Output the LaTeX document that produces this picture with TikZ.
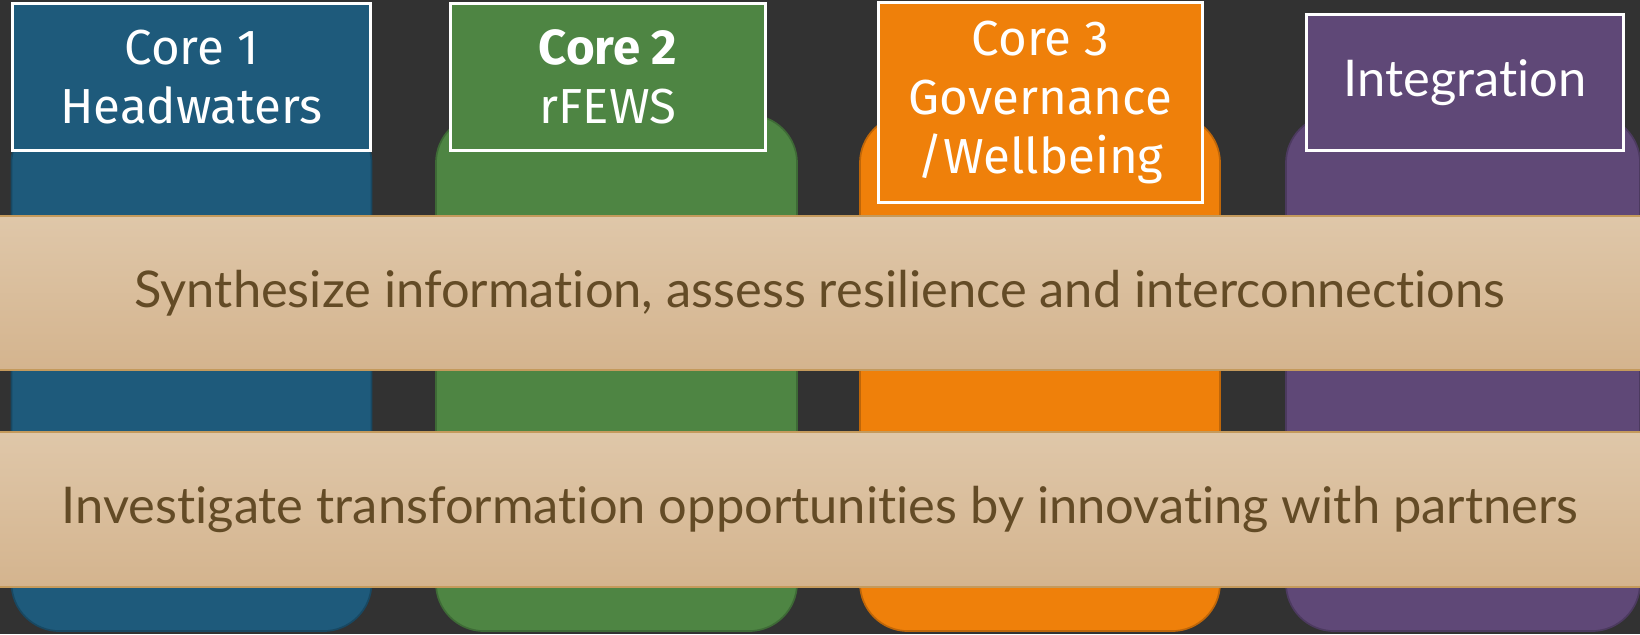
\documentclass[tikz,border=0pt]{standalone}
\usepackage{fontspec}
\setmainfont{Lato}[Ligatures={NoCommon,NoRequired,NoContextual}]
\newfontfamily\corefont{Fira Sans}
\usepackage{tikz}

\definecolor{bgdark}{HTML}{323232}
\definecolor{coreblue}{HTML}{1E5A7B}
\definecolor{coregreen}{HTML}{4E8543}
\definecolor{coreorange}{HTML}{EF800A}
\definecolor{corepurple}{HTML}{5F4877}
\definecolor{bandtop}{HTML}{DFC7A9}
\definecolor{bandbot}{HTML}{D4B48E}
\definecolor{bandedge}{HTML}{C49A5C}
\definecolor{bandtext}{HTML}{634B26}

\begin{document}
\begin{tikzpicture}[
	x=0.025cm, y=-0.025cm,
	column/.style={
		draw=#1!80!black,
		fill=#1,
		line width=1.2pt,
		rounded corners=1.2cm,
		minimum width=9cm,
		minimum height=12.9cm,
		inner sep=0pt
	},
	header/.style={
		draw=white,
		fill=#1,
		line width=2.1pt,
		text=white,
		align=center,
		inner sep=0pt,
		font=\corefont\fontsize{35}{42}\selectfont
	},
	band/.style={
		draw=bandedge,
		line width=1.4pt,
		top color=bandtop,
		bottom color=bandbot,
		minimum width=41.2cm,
		text=bandtext,
		inner sep=0pt,
		font=\fontsize{36}{43}\selectfont
	}
	]
	
	\fill[bgdark] (0,0) rectangle (1640,634);
	\useasboundingbox (0,0) rectangle (1640,634);
	
	% the four columns
	\node[column=coreblue] (c1) at (191.5,373) {};
	\node[column=coregreen, minimum width=9.025cm] (c2) at (616.5,373) {};
	\node[column=coreorange] (c3) at (1040,373) {};
	\node[column=corepurple, minimum width=8.85cm] (c4) at (1463,373) {};
	
	% headers
	\node[header=coreblue, minimum width=8.95cm, minimum height=3.675cm] 
		(h1) at (191.5,77) {Core 1\\Headwaters};
	\node[header=coregreen, minimum width=7.875cm, minimum height=3.675cm] 
		(h2) at (608,77) {\textbf{Core 2}\\rFEWS};
	\node[header=coreorange, minimum width=8.1cm, minimum height=5cm] 
		(h3) at (1040.5,102.5) {Core 3\\Governance\\/Wellbeing};
	\node[header=corepurple, minimum width=7.925cm, minimum height=3.4cm, font=\fontsize{36}{42}\selectfont] 
		(h4) at (1465,82.5) {Integration};
	
	% bands across
	\node[band, minimum height=3.85cm] 
		(b1) at (820,293) {Synthesize information, assess resilience and interconnections};
	\node[band, minimum height=3.875cm] 
		(b2) at (820,509.5) {Investigate transformation opportunities by innovating with partners};
	
\end{tikzpicture}
\end{document}
